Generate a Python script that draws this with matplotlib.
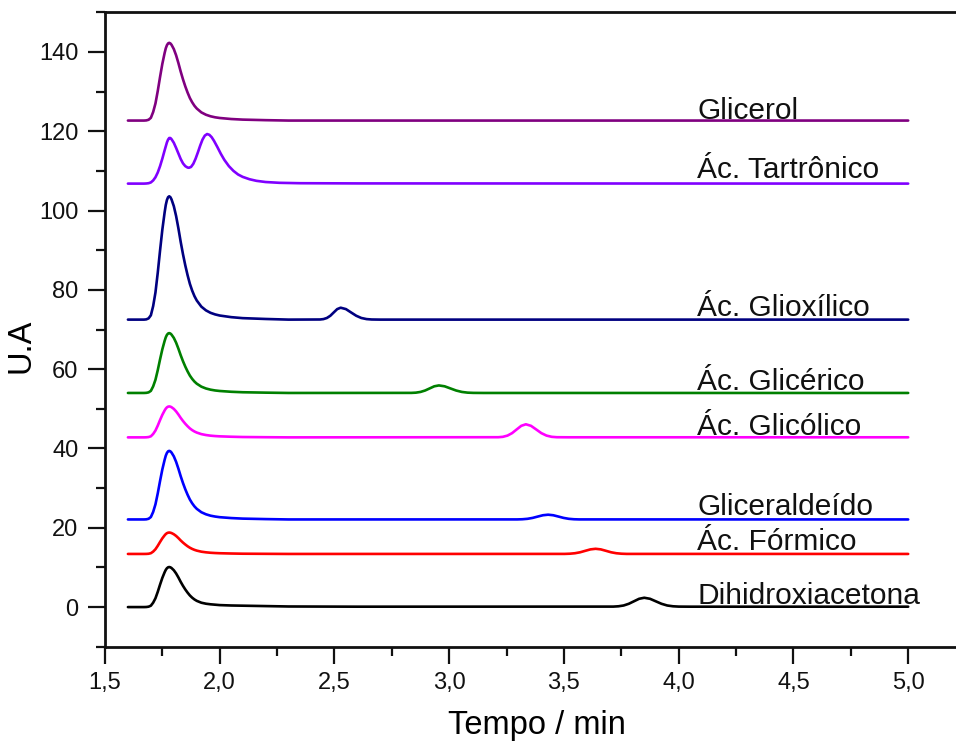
import matplotlib
matplotlib.use("Agg")
import matplotlib.pyplot as plt
from matplotlib.ticker import MultipleLocator, FuncFormatter

plt.rcParams['font.family'] = ['Liberation Sans', 'DejaVu Sans']

# Shared time grid for the injection peak region (min)
t_front = [1.60, 1.67, 1.68, 1.69, 1.70, 1.71, 1.72, 1.73, 1.74, 1.75, 1.76,
           1.765, 1.77, 1.775, 1.78, 1.785, 1.79, 1.80, 1.81, 1.82, 1.83,
           1.84, 1.85, 1.86, 1.87, 1.88, 1.89, 1.90, 1.92, 1.94, 1.96, 1.98,
           2.00, 2.05, 2.10, 2.20, 2.30]

# Dihidroxiacetona
dha_front = [0.0, 0.0, 0.02, 0.1, 0.35, 1.11, 2.22, 3.84, 5.66, 7.37, 8.79,
             9.39, 9.8, 10.03, 10.1, 10.03, 9.85, 9.29, 8.48, 7.47, 6.36,
             5.35, 4.44, 3.64, 2.93, 2.37, 1.92, 1.57, 1.1, 0.85, 0.7, 0.6,
             0.5, 0.4, 0.35, 0.25, 0.15]
dha_t2 = [2.60, 3.715, 3.7375, 3.76, 3.7825, 3.805, 3.8275, 3.85, 3.875,
          3.90, 3.925, 3.95, 3.975, 4.00, 4.05, 5.00]
dha_y2 = [0.1, 0.12, 0.2, 0.4, 0.83, 1.46, 2.09, 2.35, 2.09, 1.46, 0.83,
          0.4, 0.2, 0.12, 0.1, 0.1]

# Ác. Fórmico
for_front = [13.4, 13.4, 13.41, 13.45, 13.59, 13.99, 14.59, 15.45, 16.42,
             17.34, 18.1, 18.42, 18.64, 18.76, 18.8, 18.76, 18.67, 18.37,
             17.94, 17.4, 16.8, 16.26, 15.78, 15.34, 14.97, 14.67, 14.43,
             14.24, 13.97, 13.81, 13.7, 13.63, 13.58, 13.51, 13.46, 13.43,
             13.4]
for_t2 = [3.503, 3.5255, 3.548, 3.5705, 3.593, 3.6155, 3.638, 3.6605, 3.683,
          3.7055, 3.728, 3.7505, 3.773, 5.00]
for_y2 = [13.41, 13.46, 13.58, 13.82, 14.19, 14.55, 14.7, 14.55, 14.19,
          13.82, 13.58, 13.46, 13.41, 13.4]

# Gliceraldeído
gald_front = [22.1, 22.1, 22.13, 22.27, 22.71, 24.0, 25.91, 28.67, 31.79,
              34.73, 37.15, 38.19, 38.88, 39.28, 39.4, 39.28, 38.97, 38.02,
              36.63, 34.9, 33.0, 31.27, 29.71, 28.33, 27.12, 26.17, 25.39,
              24.78, 23.92, 23.4, 23.05, 22.83, 22.67, 22.45, 22.31, 22.19,
              22.1]
gald_t2 = [3.296, 3.3185, 3.341, 3.3635, 3.386, 3.4085, 3.431, 3.4535, 3.476,
           3.4985, 3.521, 3.5435, 3.566, 5.00]
gald_y2 = [22.11, 22.15, 22.26, 22.49, 22.83, 23.16, 23.3, 23.16, 22.83,
           22.49, 22.26, 22.15, 22.11, 22.1]

# Ác. Glicólico
glic_front = [42.8, 42.8, 42.82, 42.88, 43.07, 43.66, 44.52, 45.76, 47.17,
              48.49, 49.59, 50.05, 50.37, 50.55, 50.6, 50.55, 50.41, 49.98,
              49.35, 48.57, 47.71, 46.93, 46.23, 45.61, 45.06, 44.63, 44.28,
              44.01, 43.62, 43.39, 43.23, 43.13, 43.06, 42.96, 42.89, 42.84,
              42.8]
glic_t2 = [3.214, 3.234, 3.254, 3.274, 3.294, 3.314, 3.334, 3.3565, 3.379,
           3.4015, 3.424, 3.4465, 3.469, 3.52, 5.00]
glic_y2 = [42.84, 42.94, 43.25, 43.87, 44.8, 45.71, 46.1, 45.71, 44.8, 43.87,
           43.25, 42.94, 42.84, 42.82, 42.82]

# Ác. Glicérico
gce_front = [54.0, 54.0, 54.03, 54.15, 54.53, 55.66, 57.32, 59.74, 62.46,
             65.02, 67.14, 68.04, 68.65, 68.99, 69.1, 68.99, 68.72, 67.89,
             66.68, 65.17, 63.51, 62.0, 60.64, 59.44, 58.38, 57.55, 56.87,
             56.34, 55.59, 55.13, 54.83, 54.63, 54.5, 54.3, 54.18, 54.08,
             54.0]
gce_t2 = [2.835, 2.855, 2.875, 2.895, 2.915, 2.935, 2.955, 2.98, 3.005, 3.03,
          3.055, 3.08, 3.105, 3.15, 5.00]
gce_y2 = [54.02, 54.08, 54.26, 54.62, 55.15, 55.68, 55.9, 55.68, 55.15,
          54.62, 54.26, 54.08, 54.02, 54.0, 54.0]

# Ác. Glioxílico
glx_front = [72.5, 72.5, 72.56, 72.81, 73.59, 75.92, 79.34, 84.32, 89.92,
             95.2, 99.56, 101.42, 102.67, 103.38, 103.6, 103.38, 102.82,
             101.11, 98.62, 95.51, 92.09, 88.98, 86.18, 83.7, 81.52, 79.81,
             78.41, 77.32, 75.77, 74.83, 74.21, 73.81, 73.53, 73.12, 72.87,
             72.66, 72.5]
glx_t2 = [2.437, 2.452, 2.467, 2.482, 2.497, 2.512, 2.527, 2.55, 2.572,
          2.595, 2.617, 2.64, 2.662, 2.70, 5.00]
glx_y2 = [72.53, 72.63, 72.91, 73.47, 74.32, 75.15, 75.5, 75.15, 74.32,
          73.47, 72.91, 72.63, 72.53, 72.5, 72.5]

# Ác. Tartrônico (double peak)
tar_t = [1.60, 1.67, 1.68, 1.69, 1.70, 1.71, 1.72, 1.73, 1.74, 1.75, 1.76,
         1.77, 1.775, 1.78, 1.785, 1.79, 1.80, 1.81, 1.82, 1.83, 1.84, 1.85,
         1.86, 1.866, 1.875, 1.885, 1.895, 1.905, 1.915, 1.925, 1.935, 1.945,
         1.955, 1.965, 1.975, 1.99, 2.005, 2.02, 2.04, 2.06, 2.08, 2.10,
         2.13, 2.16, 2.20, 2.26, 2.35, 2.60, 5.00]
tar_y = [106.8, 106.8, 106.83, 106.9, 107.1, 107.6, 108.4, 109.6, 111.2,
         113.1, 115.2, 117.2, 117.9, 118.3, 118.3, 118.0, 117.1, 115.8,
         114.4, 113.0, 111.9, 111.2, 110.85, 110.8, 111.0, 111.8, 113.1,
         114.7, 116.4, 117.9, 118.9, 119.3, 119.1, 118.5, 117.6, 116.0,
         114.3, 112.8, 111.2, 110.0, 109.1, 108.5, 107.9, 107.5, 107.2,
         107.0, 106.9, 106.85, 106.8]

# Glicerol
gol_front = [122.7, 122.7, 122.74, 122.9, 123.39, 124.86, 127.01, 130.15,
             133.68, 137.01, 139.75, 140.93, 141.71, 142.16, 142.3, 142.16,
             141.81, 140.73, 139.16, 137.2, 135.05, 133.09, 131.32, 129.76,
             128.38, 127.31, 126.42, 125.74, 124.76, 124.17, 123.78, 123.52,
             123.35, 123.09, 122.94, 122.8, 122.7]
gol_t2 = [5.00]
gol_y2 = [122.7]

names = ["Dihidroxiacetona", "Ác. Fórmico", "Gliceraldeído", "Ác. Glicólico",
         "Ác. Glicérico", "Ác. Glioxílico", "Ác. Tartrônico", "Glicerol"]
colors = ["#000000", "#FF0000", "#0000FF", "#FF00FF", "#008000", "#000080",
          "#8000FF", "#800080"]
label_y = [0.85, 14.3, 23.3, 43.5, 54.8, 73.4, 108.1, 123.2]
label_x = 4.08

series = [
    (t_front + dha_t2, dha_front + dha_y2),
    (t_front + for_t2, for_front + for_y2),
    (t_front + gald_t2, gald_front + gald_y2),
    (t_front + glic_t2, glic_front + glic_y2),
    (t_front + gce_t2, gce_front + gce_y2),
    (t_front + glx_t2, glx_front + glx_y2),
    (tar_t, tar_y),
    (t_front + gol_t2, gol_front + gol_y2),
]

fig = plt.figure(figsize=(9.56, 7.42), dpi=100)
ax = fig.add_axes([0.1098, 0.1284, 0.9038, 0.855])

for (t, y), c, name, ly in zip(series, colors, names, label_y):
    ax.plot(t, y, color=c, lw=1.9, solid_joinstyle='round',
            solid_capstyle='round')
    ax.text(label_x, ly, name, fontsize=21.5, ha='left', va='baseline',
            color='#111111')

ax.set_xlim(1.5, 5.265)
ax.set_ylim(-10, 150)

ax.xaxis.set_major_locator(MultipleLocator(0.5))
ax.xaxis.set_minor_locator(MultipleLocator(0.25))
ax.yaxis.set_major_locator(MultipleLocator(20))
ax.yaxis.set_minor_locator(MultipleLocator(10))
ax.xaxis.set_major_formatter(
    FuncFormatter(lambda v, p: f"{v:.1f}".replace('.', ',')))
ax.yaxis.set_major_formatter(FuncFormatter(lambda v, p: f"{v:.0f}"))

ax.tick_params(which='both', direction='out', top=False, right=False,
               width=1.6, colors='#111111')
ax.tick_params(which='major', length=12, labelsize=17, pad=6)
ax.tick_params(which='minor', length=6.5)
ax.tick_params(axis='y', which='major', pad=7)

for side in ['left', 'bottom', 'top']:
    ax.spines[side].set_linewidth(2)
    ax.spines[side].set_color('#111111')
ax.spines['right'].set_visible(False)

ax.set_xlabel("Tempo / min", fontsize=23.5, labelpad=12)
ax.set_ylabel("U.A", fontsize=23.5)
ax.yaxis.set_label_coords(-0.079, 0.474)

fig.savefig("out.png", dpi=100)
